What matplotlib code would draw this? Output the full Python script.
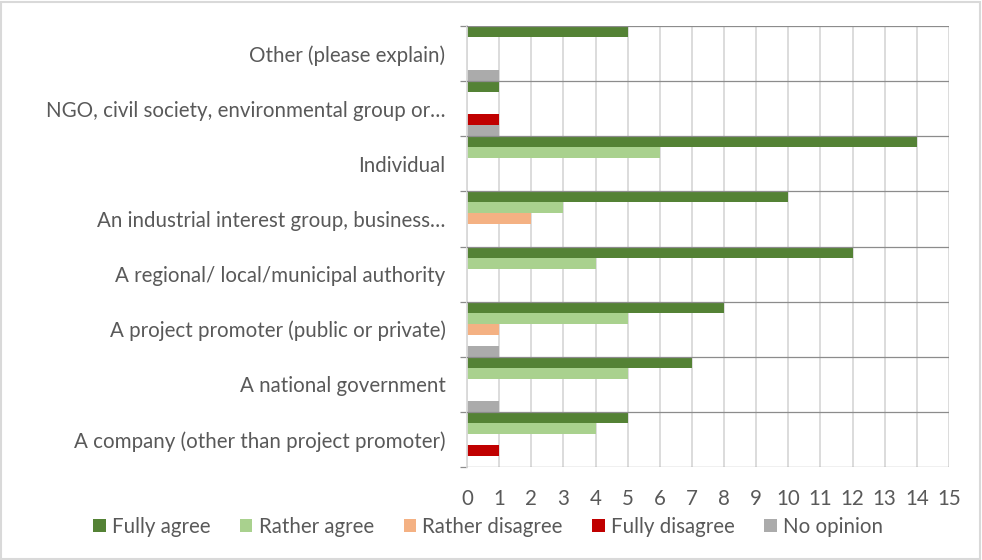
import numpy as np
import matplotlib.pyplot as plt
from matplotlib.patches import Rectangle, Patch

# categories, bottom to top
categories = [
    "A company (other than project promoter)",
    "A national government",
    "A project promoter (public or private)",
    "A regional/ local/municipal authority",
    "An industrial interest group, business\u2026",
    "Individual",
    "NGO, civil society, environmental group or\u2026",
    "Other (please explain)",
]
series_names = ["Fully agree", "Rather agree", "Rather disagree", "Fully disagree", "No opinion"]
fully_agree = [5, 7, 8, 12, 10, 14, 1, 5]
rather_agree = [4, 5, 5, 4, 3, 6, 0, 0]
rather_disagree = [0, 0, 1, 0, 2, 0, 0, 0]
fully_disagree = [1, 0, 0, 0, 0, 0, 1, 0]
no_opinion = [0, 1, 1, 0, 0, 0, 1, 1]
series_colors = ["#548235", "#A9D18E", "#F4B183", "#C00000", "#ABABAB"]

TEXT = "#595959"
FS = 14.8
plt.rcParams['font.family'] = ['Lato', 'DejaVu Sans']

fig = plt.figure(figsize=(9.82, 5.6), dpi=100)
ax = fig.add_axes([467 / 982, 1 - 467 / 560, 482 / 982, 441 / 560])

y = np.arange(len(categories))
h = 0.2
all_series = [fully_agree, rather_agree, rather_disagree, fully_disagree, no_opinion]
for j, (vals, col) in enumerate(zip(all_series, series_colors)):
    ax.barh(y + (2 - j) * h, vals, height=h, color=col, zorder=2, linewidth=0)

ax.set_xlim(0, 15)
ax.set_ylim(-0.5, len(categories) - 0.5)
ax.set_xticks(range(0, 16))
ax.set_yticks(y)
ax.set_yticklabels(categories)

# vertical gridlines
ax.grid(axis='x', color='#D9D9D9', linewidth=1.3, zorder=0)
# category boundaries
for b in np.arange(-0.5, len(categories), 1.0):
    ax.axhline(b, color='#8C8C8C', linewidth=0.9, zorder=3)
ax.set_yticks(np.arange(-0.5, len(categories), 1.0), minor=True)

for s in ax.spines.values():
    s.set_visible(False)
ax.spines['left'].set_visible(True)
ax.spines['left'].set_color('#D9D9D9')
ax.spines['left'].set_linewidth(1.3)

ax.tick_params(axis='y', which='major', length=0, pad=15.5, labelsize=FS, labelcolor=TEXT)
ax.tick_params(axis='y', which='minor', length=5, color='#8C8C8C', width=0.9)
ax.tick_params(axis='x', length=0, pad=16, labelsize=FS, labelcolor=TEXT)

handles = [Patch(facecolor=c, edgecolor='none') for c in series_colors]
fig.legend(handles, series_names, loc='center', bbox_to_anchor=(0.497, 1 - 527 / 560),
           ncol=5, frameon=False, fontsize=FS, labelcolor=TEXT,
           handlelength=0.6, handleheight=0.6, handletextpad=0.3, columnspacing=1.45)

# chart border
fig.patches.append(Rectangle((0.001, 0.002), 0.997, 0.995, transform=fig.transFigure,
                             fill=False, edgecolor='#D9D9D9', linewidth=1.5))

fig.savefig("out.png", dpi=100)
